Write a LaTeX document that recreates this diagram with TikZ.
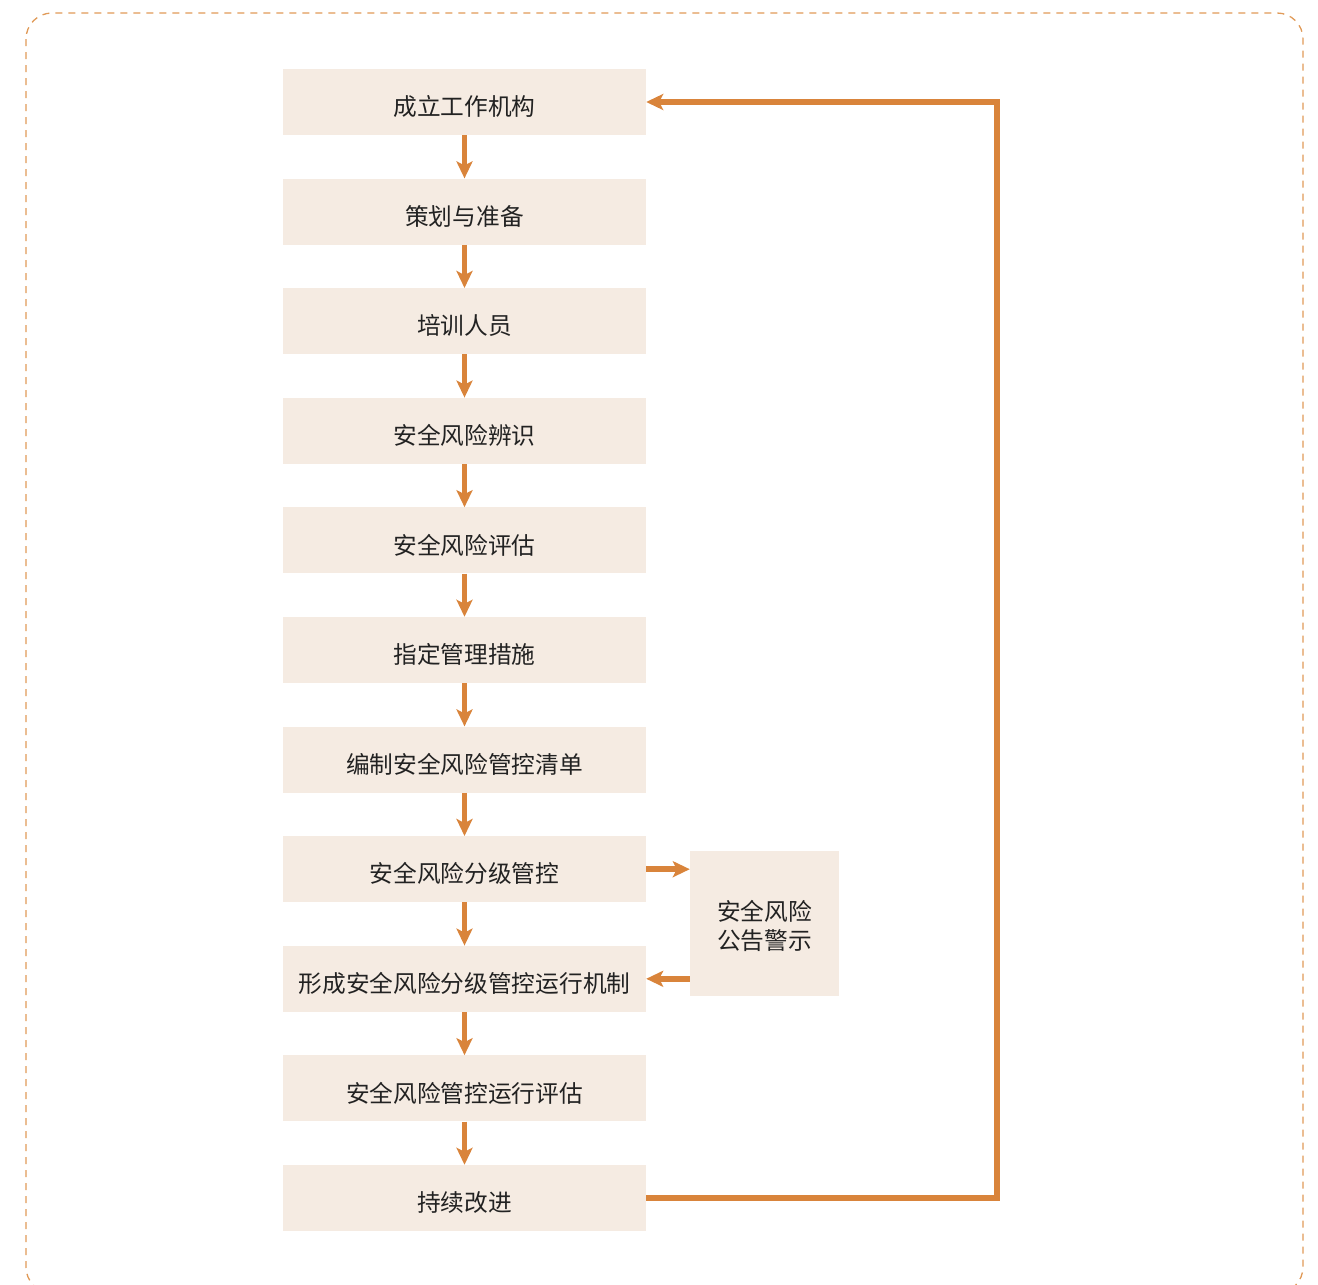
\documentclass[tikz,border=0pt]{standalone}
\usepackage{fontspec}
\setmainfont{Noto Sans CJK SC}
\usetikzlibrary{arrows.meta}
\definecolor{arr}{HTML}{D9843B}
\definecolor{boxfill}{HTML}{F5EBE2}
\definecolor{txt}{HTML}{222222}
\definecolor{dashc}{HTML}{E09A58}
\begin{document}
\begin{tikzpicture}[x=1pt,y=-1pt,
  stepbox/.style={fill=boxfill, draw=none, minimum width=363pt, minimum height=66pt, inner sep=0pt, text=txt, font=\fontsize{23.7}{29}\selectfont},
  sidebox/.style={fill=boxfill, draw=none, minimum width=149pt, minimum height=145pt, inner sep=0pt, text=txt, align=center, font=\fontsize{23.5}{29}\selectfont},
  lbl/.style={text=txt, inner sep=0pt, font=\fontsize{23.7}{29}\selectfont},
  flow/.style={draw=arr, line width=5.5pt, -{Stealth[length=17pt,width=16pt,inset=4pt]}},
  loopline/.style={draw=arr, line width=5.5pt}]
\useasboundingbox (0,0) rectangle (1318,1285);
\draw[dashc, line width=1.3pt, dash pattern=on 7pt off 6pt, rounded corners=26pt] (26,13) rectangle (1303,1293);
\foreach \n/\y/\t in {s1/102/成立工作机构, s2/211.6/策划与准备, s3/321.2/培训人员, s4/430.8/安全风险辨识, s5/540.4/安全风险评估, s6/650/指定管理措施, s7/759.6/编制安全风险管控清单, s8/869.2/安全风险分级管控, s9/978.8/形成安全风险分级管控运行机制, s10/1088.4/安全风险管控运行评估, s11/1198/持续改进} {
  \node[stepbox] (\n) at (464.5,\y) {};
  \node[lbl] (\n t) at ([yshift=-4.5pt]\n.center) {\t};
}
\node[sidebox] (w) at (764.5,923.5) {};
\node[lbl, align=center] (wt) at ([yshift=-2pt]w.center) {安全风险\\公告警示};
\foreach \a/\b in {s1/s2,s2/s3,s3/s4,s4/s5,s5/s6,s6/s7,s7/s8,s8/s9,s9/s10,s10/s11}
  \draw[flow] (\a.south) -- (\b.north);
\draw[flow] (s8.east) -- (s8.east -| w.west);
\draw[flow] (s9.east -| w.west) -- (s9.east);
\coordinate (c1) at (997,1198);
\coordinate (c2) at (997,102);
\draw[loopline] (s11.east) -- (c1) -- (c2) -- ([xshift=14pt]s1.east);
\draw[flow] (c2) -- (s1.east);
\end{tikzpicture}
\end{document}
